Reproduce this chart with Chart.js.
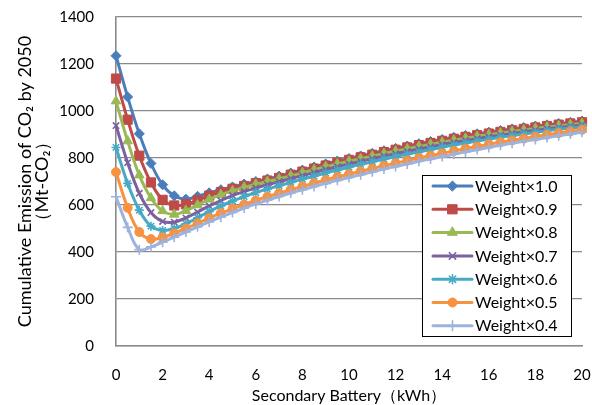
<!DOCTYPE html>
<html>
<head>
<meta charset="utf-8">
<script src="https://cdn.jsdelivr.net/npm/chart.js"></script>
<style>
  html, body { margin: 0; padding: 0; background: #fff; }
  #wrap { width: 592px; height: 405px; position: relative; }
</style>
</head>
<body>
<div id="wrap"><canvas id="c" width="592" height="405"></canvas></div>
<script>
// ---- DATA ----
const batteryKWh = [0,0.5,1,1.5,2,2.5,3,3.5,4,4.5,5,5.5,6,6.5,7,7.5,8,8.5,9,9.5,10,10.5,11,11.5,12,12.5,13,13.5,14,14.5,15,15.5,16,16.5,17,17.5,18,18.5,19,19.5,20];
const seriesLabels = ['Weight×1.0','Weight×0.9','Weight×0.8','Weight×0.7','Weight×0.6','Weight×0.5','Weight×0.4'];
const weight10 = [1235,1060,903,777,686,639,625,637,652,665,677,689,700,711,723,736,749,762,775,787,798,809,820,831,841,851,861,870,879,888,896,903,910,917,924,930,936,941,947,952,957];
const weight09 = [1138,963,810,696,622,598,603,620,640,655,669,681,693,704,715,729,742,755,768,780,792,803,814,825,835,845,855,864,873,882,890,897,904,911,918,924,930,936,942,947,952];
const weight08 = [1042,872,727,630,575,560,576,600,624,644,660,675,688,700,711,724,737,750,763,775,786,797,808,819,829,839,849,858,867,876,884,892,899,906,913,919,926,932,937,942,947];
const weight07 = [938,780,650,568,530,527,545,570,596,619,640,657,672,686,699,712,725,738,751,763,774,786,797,808,818,828,838,848,857,866,874,882,890,897,904,911,918,924,930,935,940];
const weight06 = [845,692,578,510,492,500,520,546,572,596,617,636,653,668,682,696,710,723,736,749,761,773,784,795,806,816,826,836,846,855,864,872,880,888,895,902,909,916,922,928,933];
const weight05 = [740,588,485,455,462,480,500,522,544,565,584,602,619,635,650,665,679,693,706,719,731,743,755,767,778,789,800,810,820,830,840,849,858,867,875,883,891,899,906,913,920];
const weight04 = [635,505,410,422,442,463,485,507,528,548,568,587,604,620,636,651,665,679,692,705,717,729,741,753,764,775,786,796,806,816,826,836,845,854,863,871,879,887,895,902,910];
const yTicks = [0,200,400,600,800,1000,1200,1400];
const xTicks = [0,2,4,6,8,10,12,14,16,18,20];

const allSeries = [weight10, weight09, weight08, weight07, weight06, weight05, weight04];
const colors = ['#4A7EBB','#BE4B48','#98B954','#7D60A0','#46AAC5','#F69240','#9DB3DD'];
const styles = ['rectRot','rect','triangle','crossRot','star','circle','cross'];
const radii = [5,6.5,5.5,4.5,4.5,4.5,5];

const datasets = allSeries.map((arr, i) => ({
  label: seriesLabels[i],
  data: batteryKWh.map((x, j) => ({x: x, y: arr[j]})),
  borderColor: colors[i],
  backgroundColor: colors[i],
  pointBackgroundColor: colors[i],
  pointBorderColor: colors[i],
  pointStyle: styles[i],
  pointRadius: radii[i],
  pointBorderWidth: (styles[i] === 'crossRot' || styles[i] === 'star' || styles[i] === 'cross') ? 1.6 : 1,
  borderWidth: 3,
  tension: 0.4,
  clip: false,
  order: 7 - i
}));

const FONT = 'Lato, "Open Sans", "Noto Sans", sans-serif';

const legendPlugin = {
  id: 'boxLegend',
  afterDraw(chart) {
    const ctx = chart.ctx;
    const bx = 422.5, by = 175.5, bw = 149, bh = 161;
    ctx.save();
    ctx.fillStyle = '#ffffff';
    ctx.fillRect(bx, by, bw, bh);
    ctx.strokeStyle = '#000000';
    ctx.lineWidth = 1;
    ctx.strokeRect(bx, by, bw, bh);
    chart.data.datasets.forEach((ds, i) => {
      const y = 186 + i * 23.3;
      ctx.strokeStyle = ds.borderColor;
      ctx.lineWidth = 3;
      ctx.lineCap = 'round';
      ctx.beginPath();
      ctx.moveTo(433, y);
      ctx.lineTo(472, y);
      ctx.stroke();
      ctx.fillStyle = ds.pointBackgroundColor;
      ctx.strokeStyle = ds.pointBorderColor;
      ctx.lineWidth = ds.pointBorderWidth;
      if (Chart.helpers && Chart.helpers.drawPoint) {
        Chart.helpers.drawPoint(ctx, {pointStyle: ds.pointStyle, radius: ds.pointRadius, rotation: 0, borderWidth: ds.pointBorderWidth}, 452.5, y);
      }
      ctx.fillStyle = '#000000';
      ctx.font = '16px ' + FONT;
      ctx.textAlign = 'left';
      ctx.textBaseline = 'middle';
      ctx.fillText(ds.label, 475, y + 0.5);
    });
    ctx.restore();
  }
};

new Chart(document.getElementById('c'), {
  type: 'line',
  data: { datasets: datasets },
  options: {
    responsive: false,
    devicePixelRatio: 1,
    animation: false,
    layout: { padding: { top: 17, right: 10, left: 0, bottom: 0 } },
    plugins: { legend: { display: false }, tooltip: { enabled: false } },
    scales: {
      x: {
        type: 'linear',
        min: 0, max: 20,
        afterBuildTicks: (s) => { s.ticks = xTicks.map(v => ({value: v})); },
        afterFit: (s) => { s.height = 59; s.paddingLeft = 0; s.paddingRight = 0; },
        grid: { display: false, drawTicks: false },
        border: { display: true, color: '#8a8a8a', width: 1.6 },
        ticks: { color: '#000', padding: 20, font: { family: FONT, size: 15 }, maxRotation: 0, autoSkip: false, callback: (v) => String(v) },
        title: { display: true, text: 'Secondary Battery（kWh）', color: '#000', font: { family: FONT, size: 16, lineHeight: 1.15 }, padding: { top: 0, bottom: 0 } }
      },
      y: {
        type: 'linear',
        min: 0, max: 1400,
        afterBuildTicks: (s) => { s.ticks = yTicks.map(v => ({value: v})); },
        afterFit: (s) => { s.width = 116; s.paddingTop = 0; s.paddingBottom = 0; },
        grid: { color: '#8a8a8a', lineWidth: 1.3, drawTicks: false },
        border: { display: true, color: '#8a8a8a', width: 1.6 },
        ticks: { color: '#000', padding: 22, font: { family: FONT, size: 15 }, callback: (v) => String(v) },
        title: { display: true, text: ['Cumulative Emission of CO₂ by 2050', '（Mt-CO₂）'], color: '#000', font: { family: FONT, size: 18, lineHeight: 0.92 }, padding: { top: 17, bottom: 0 } }
      }
    }
  },
  plugins: [legendPlugin]
});
</script>
</body>
</html>
